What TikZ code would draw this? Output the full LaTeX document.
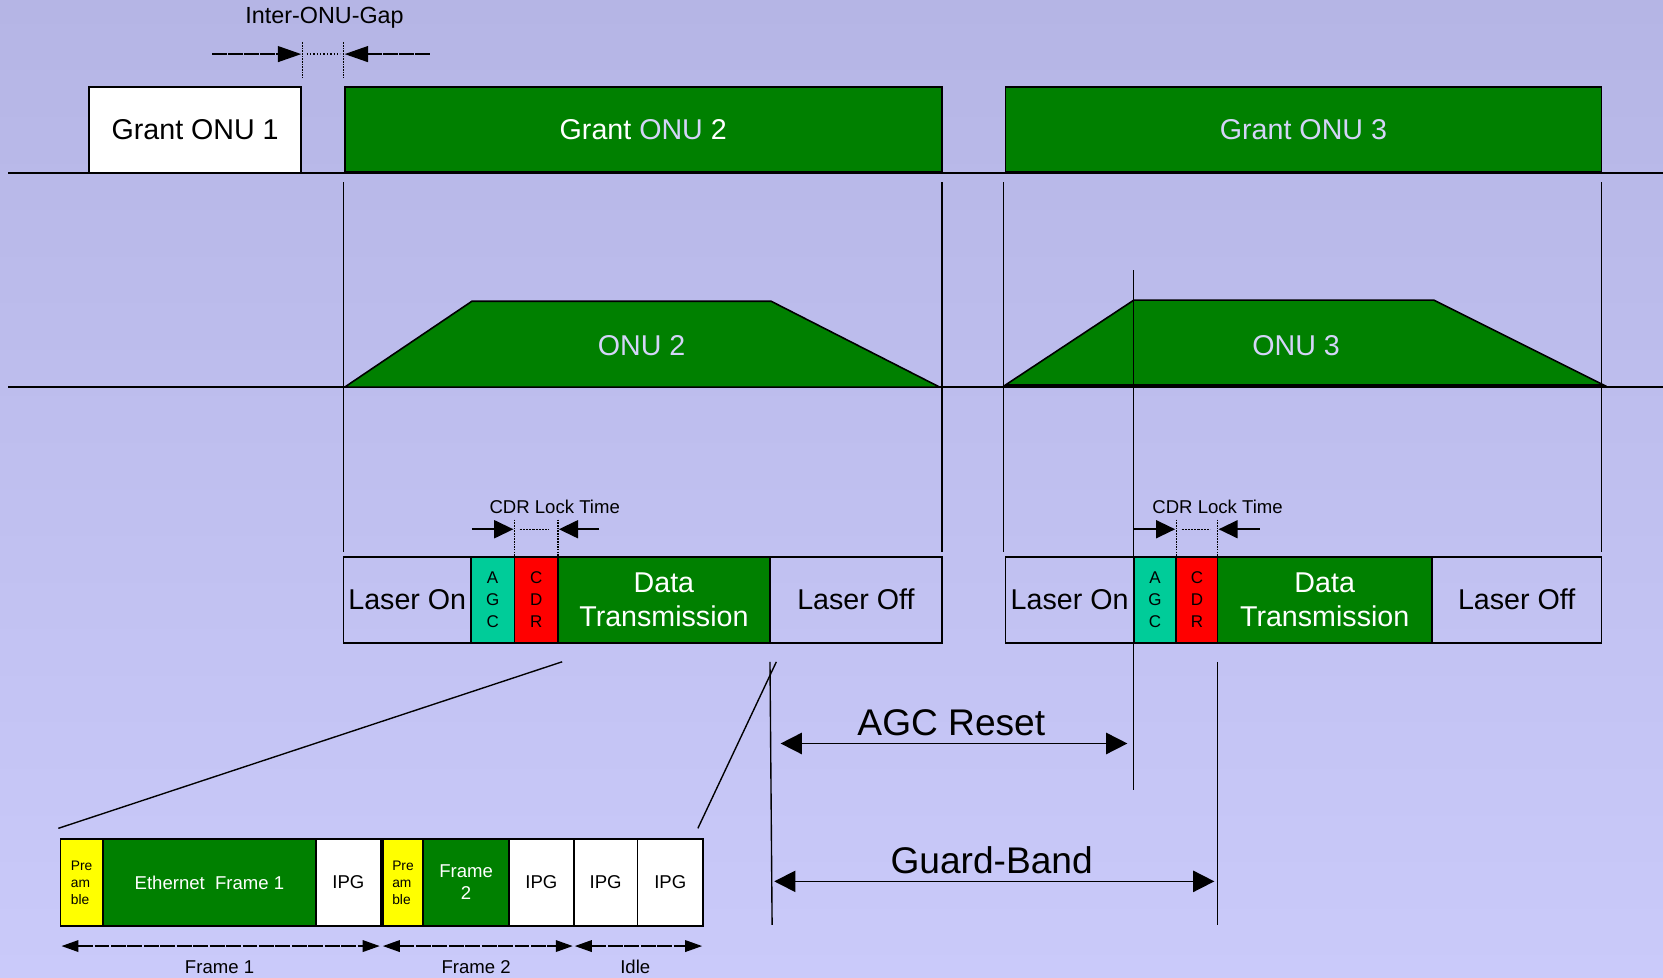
\documentclass[tikz,border=0pt]{standalone}
\usepackage{fontspec}
\setmainfont{Liberation Sans}
\usetikzlibrary{arrows.meta}
\definecolor{bgtop}{HTML}{B5B5E5}
\definecolor{bgbot}{HTML}{CACAFA}
\definecolor{onugreen}{HTML}{008000}
\definecolor{agcteal}{HTML}{00CC99}
\definecolor{cdrred}{HTML}{FF0000}
\definecolor{preyellow}{HTML}{FFFF00}
\definecolor{lav}{HTML}{D4D4F8}
\newcommand\cellbox[7]{\node[cell,#1,minimum width={(#5-#3)*1pt},minimum height={(#6-#4)*1pt}] (#2) at ({(#3+#5)/2},{(#4+#6)/2}) {#7};}
\begin{document}
\begin{tikzpicture}[x=1pt,y=-1pt,
  cell/.style={draw=black, line width=1.6pt, inner sep=0pt, outer sep=0pt, align=center},
  fbig/.style={font=\fontsize{27}{32}\selectfont},
  fhuge/.style={font=\fontsize{35}{40}\selectfont},
  fmid/.style={font=\fontsize{22}{26}\selectfont},
  fsmall/.style={font=\fontsize{17.5}{21}\selectfont},
  fletter/.style={font=\fontsize{16}{21}\selectfont},
  ftiny/.style={font=\fontsize{13}{16}\selectfont},
  gbox/.style={fill=onugreen, text=white},
  wbox/.style={fill=white},
  tline/.style={line width=1.5pt},
  mline/.style={line width=1.3pt},
  marker/.style={line width=1.2pt, dash pattern=on 1.5pt off 1pt},
  bigarrow/.style={line width=1.6pt, {Triangle[length=20pt,width=20pt]}-{Triangle[length=20pt,width=20pt]}},
  gaparrow/.style={line width=1.3pt, dash pattern=on 14pt off 1pt, -{Triangle[length=22pt,width=15pt]}},
  cdrarrow/.style={line width=1.5pt, -{Triangle[length=18pt,width=17pt]}},
  framearrow/.style={line width=1.3pt, dash pattern=on 14pt off 1.5pt, {Triangle[length=16pt,width=11pt]}-{Triangle[length=16pt,width=11pt]}}
]
% background
\shade[top color=bgtop, bottom color=bgbot] (0,0) rectangle (1568,922);
\useasboundingbox (0,0) rectangle (1568,922);

% timelines
\coordinate (t1l) at (8,163); \coordinate (t1r) at (1568,163);
\coordinate (t2l) at (8,365); \coordinate (t2r) at (1568,365);
\draw[tline] (t1l) -- (t1r);
\draw[tline] (t2l) -- (t2r);

% grants
\cellbox{wbox,fbig}{g1}{84}{82}{284}{163}{Grant ONU 1}
\cellbox{gbox,fbig}{g2}{325}{82}{888}{162}{Grant \textcolor{lav}{ONU} 2}
\cellbox{gbox,fbig,text=lav}{g3}{948}{82}{1510}{162}{Grant ONU 3}

% inter-ONU gap
\node[fmid] (gaplbl) at (306,17) {Inter-ONU-Gap};
\coordinate (gapA1) at (285,40); \coordinate (gapA2) at (285,75);
\coordinate (gapB1) at (324,40); \coordinate (gapB2) at (324,75);
\draw[marker] (gapA1) -- (gapA2);
\draw[marker] (gapB1) -- (gapB2);
\coordinate (gapL) at (200,51); \coordinate (gapLe) at (284,51);
\coordinate (gapR) at (405,51); \coordinate (gapRe) at (325,51);
\coordinate (gapD1) at (289,51); \coordinate (gapD2) at (321,51);
\draw[gaparrow] (gapL) -- (gapLe);
\draw[gaparrow] (gapR) -- (gapRe);
\draw[line width=1.2pt, dotted] (gapD1) -- (gapD2);

% vertical boundary lines
\coordinate (v1a) at (324,172); \coordinate (v1b) at (324,520);
\coordinate (v2a) at (888,172); \coordinate (v2b) at (888,520);
\coordinate (v3a) at (946,172); \coordinate (v3b) at (946,520);
\coordinate (v4a) at (1510,172); \coordinate (v4b) at (1510,520);
\draw[mline] (v1a) -- (v1b);
\draw[mline] (v2a) -- (v2b);
\draw[mline] (v3a) -- (v3b);
\draw[mline] (v4a) -- (v4b);

% trapezoids
\draw[fill=onugreen, line width=1.5pt] (325,365) -- (445,284) -- (727,284) -- (886,365) -- cycle;
\node[fbig, text=lav] (onu2) at (605,326) {ONU 2};
\draw[fill=onugreen, line width=1.5pt] (948,363) -- (1069,283) -- (1352,283) -- (1512,363) -- cycle;
\node[fbig, text=lav] (onu3) at (1222,326) {ONU 3};

% agc line through ONU 3
\coordinate (agcTop) at (1069,255); \coordinate (agcBot) at (1069,745);
\draw[mline] (agcTop) -- (agcBot);

% burst ONU 2
\cellbox{fbig}{lon2}{324}{525}{444}{606}{Laser On}
\cellbox{fill=agcteal,fletter}{agc2}{444}{525}{485}{606}{A\\G\\C}
\cellbox{fill=cdrred,fletter}{cdr2}{485}{525}{526}{606}{C\\D\\R}
\cellbox{gbox,fbig}{dat2}{526}{525}{726}{606}{Data\\Transmission}
\cellbox{fbig}{loff2}{726}{525}{888}{606}{Laser Off}

% burst ONU 3
\cellbox{fbig}{lon3}{948}{525}{1069}{606}{Laser On}
\cellbox{fill=agcteal,fletter}{agc3}{1069}{525}{1109}{606}{A\\G\\C}
\cellbox{fill=cdrred,fletter}{cdr3}{1109}{525}{1148}{606}{C\\D\\R}
\cellbox{gbox,fbig}{dat3}{1148}{525}{1350}{606}{Data\\Transmission}
\cellbox{fbig}{loff3}{1350}{525}{1510}{606}{Laser Off}

% CDR lock time ONU 2
\node[fsmall] (cdrlbl2) at (523,478) {CDR Lock Time};
\coordinate (c2m1a) at (485,490); \coordinate (c2m2a) at (526,490);
\draw[marker] (c2m1a) -- (cdr2.north west);
\draw[marker] (c2m2a) -- (cdr2.north east);
\coordinate (c2l) at (445,499); \coordinate (c2le) at (484,499);
\coordinate (c2r) at (565,499); \coordinate (c2re) at (527,499);
\draw[cdrarrow] (c2l) -- (c2le);
\draw[cdrarrow] (c2r) -- (c2re);
\coordinate (c2d1) at (490,499); \coordinate (c2d2) at (518,499);
\draw[line width=1pt, dash pattern=on 2pt off 1pt] (c2d1) -- (c2d2);

% CDR lock time ONU 3
\node[fsmall] (cdrlbl3) at (1148,478) {CDR Lock Time};
\coordinate (c3m1a) at (1109,490); \coordinate (c3m2a) at (1148,490);
\draw[marker] (c3m1a) -- (cdr3.north west);
\draw[marker] (c3m2a) -- (cdr3.north east);
\coordinate (c3l) at (1069,499); \coordinate (c3le) at (1108,499);
\coordinate (c3r) at (1188,499); \coordinate (c3re) at (1149,499);
\draw[cdrarrow] (c3l) -- (c3le);
\draw[cdrarrow] (c3r) -- (c3re);
\coordinate (c3d1) at (1114,499); \coordinate (c3d2) at (1141,499);
\draw[line width=1pt, dash pattern=on 2pt off 1pt] (c3d1) -- (c3d2);

% frame detail bar
\cellbox{fill=preyellow,ftiny,align=left}{pre1}{57}{791}{97}{873}{Pre\\am\\ble}
\cellbox{gbox,fsmall}{eth1}{97}{791}{298}{873}{Ethernet\ \ Frame 1}
\cellbox{wbox,fsmall}{ipg1}{298}{791}{359}{873}{IPG}
\cellbox{fill=preyellow,ftiny,align=left}{pre2}{361}{791}{399}{873}{Pre\\am\\ble}
\cellbox{gbox,fsmall}{eth2}{399}{791}{480}{873}{Frame\\2}
\cellbox{wbox,fsmall}{ipg2}{480}{791}{541}{873}{IPG}
\cellbox{wbox,fsmall}{ipg3}{541}{791}{601}{873}{IPG}
\cellbox{wbox,fsmall}{ipg4}{601}{791}{663}{873}{IPG}

% zoom lines
\coordinate (z1a) at (530,624); \coordinate (z1b) at (55,781);
\coordinate (z2a) at (732,624); \coordinate (z2b) at (658,781);
\draw[mline] (z1a) -- (z1b);
\draw[mline] (z2a) -- (z2b);

% guard band verticals
\coordinate (gb1a) at (726,624); \coordinate (gb1b) at (728,872);
\coordinate (gb2a) at (1148,624); \coordinate (gb2b) at (1148,872);
\draw[mline] (gb1a) -- (gb1b);
\draw[mline] (gb2a) -- (gb2b);

% AGC reset
\node[fhuge] (agclbl) at (897,681) {AGC Reset};
\coordinate (agcL) at (736,701); \coordinate (agcR) at (1063,701);
\draw[bigarrow] (agcL) -- (agcR);

% guard band
\node[fhuge] (gblbl) at (935,811) {Guard-Band};
\coordinate (gbL) at (730,831); \coordinate (gbR) at (1145,831);
\draw[bigarrow] (gbL) -- (gbR);

% frame arrows
\coordinate (f1L) at (58,892); \coordinate (f1R) at (358,892);
\coordinate (f2L) at (361,892); \coordinate (f2R) at (540,892);
\coordinate (f3L) at (542,892); \coordinate (f3R) at (662,892);
\draw[framearrow] (f1L) -- (f1R);
\draw[framearrow] (f2L) -- (f2R);
\draw[framearrow] (f3L) -- (f3R);
\node[fsmall] (fr1lbl) at (207,912) {Frame 1};
\node[fsmall] (fr2lbl) at (449,912) {Frame 2};
\node[fsmall] (idlelbl) at (599,912) {Idle};
\end{tikzpicture}
\end{document}
